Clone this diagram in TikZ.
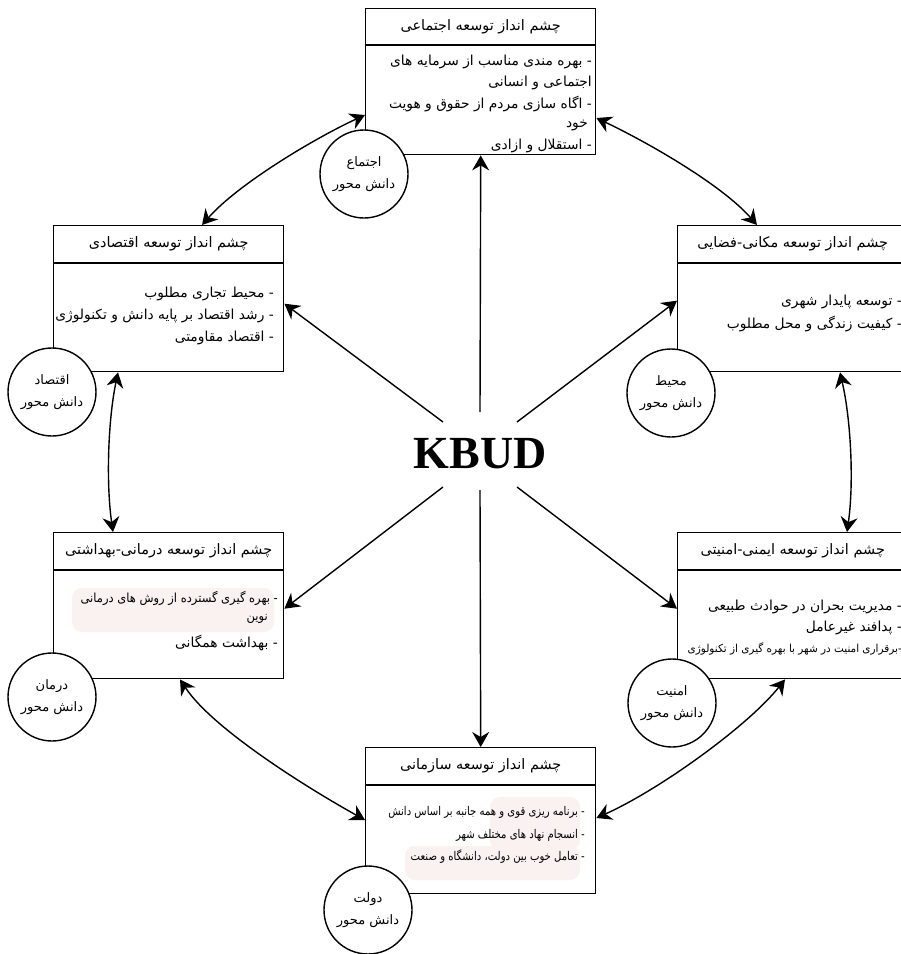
\documentclass[tikz,border=0pt]{standalone}
\usepackage{fontspec}
\usepackage{graphicx}
\setmainfont{Liberation Serif}
\newfontfamily\fa[Script=Arabic]{DejaVu Sans}
\TeXXeTstate=1
\usetikzlibrary{arrows.meta,calc}
\newcommand{\rl}[1]{\beginR #1\endR}
\definecolor{hl}{RGB}{250,241,241}
\begin{document}
\begin{tikzpicture}[x=1pt,y=-1pt,
  box/.style={draw, line width=1.4pt, fill=white, minimum width=230pt, minimum height=146pt, anchor=north west, inner sep=0pt},
  circ/.style={circle, draw, line width=1.4pt, fill=white, minimum size=88pt, inner sep=0pt, align=center, font=\fa\fontsize{13}{22}\selectfont},
  head/.style={font=\fa\fontsize{14.4}{16}\selectfont, inner sep=0pt},
  item/.style={font=\fa\fontsize{13.8}{21}\selectfont, inner sep=0pt, anchor=east},
  small/.style={font=\fa\fontsize{12.5}{20}\selectfont, inner sep=0pt, anchor=east},
  orgtxt/.style={font=\fa\fontsize{12}{18}\selectfont, inner sep=0pt, anchor=east},
  sep/.style={line width=1.4pt},
  arr/.style={line width=1.4pt, -{Stealth[length=15pt,width=17pt,inset=5pt]}},
  darr/.style={line width=1.4pt, {Stealth[length=15pt,width=17pt,inset=5pt]}-{Stealth[length=15pt,width=17pt,inset=5pt]}},
]
\useasboundingbox (0,0) rectangle (901,954);
\clip (0,0) rectangle (901,954);

% boxes
\node[box] (tb) at (365,8) {};
\node[box] (eb) at (53,225) {};
\node[box] (sb) at (677,225) {};
\node[box] (hb) at (53,532) {};
\node[box] (yb) at (677,532) {};
\node[box] (ob) at (365,747) {};

% header separators
\draw[sep] ($(tb.north west)+(0,37)$) -- ($(tb.north east)+(0,37)$);
\draw[sep] ($(eb.north west)+(0,38)$) -- ($(eb.north east)+(0,38)$);
\draw[sep] ($(sb.north west)+(0,38)$) -- ($(sb.north east)+(0,38)$);
\draw[sep] ($(hb.north west)+(0,38)$) -- ($(hb.north east)+(0,38)$);
\draw[sep] ($(yb.north west)+(0,38)$) -- ($(yb.north east)+(0,38)$);
\draw[sep] ($(ob.north west)+(0,38)$) -- ($(ob.north east)+(0,38)$);

% faint highlights
\fill[hl, rounded corners=10pt] (72,588) rectangle (274,632);
\fill[hl, rounded corners=10pt] (490,797) rectangle (580,850);
\fill[hl, rounded corners=10pt] (405,846) rectangle (580,880);

% headers
\node[head] (tbh) at ($(tb.north)+(0,19)$) {\beginR چشم انداز توسعه اجتماعی\endR};
\node[head] (ebh) at ($(eb.north)+(0,19)$) {\beginR چشم انداز توسعه اقتصادی\endR};
\node[head] (sbh) at ($(sb.north)+(0,19)$) {\beginR چشم انداز توسعه مکانی-فضایی\endR};
\node[head] (hbh) at ($(hb.north)+(0,19)$) {\beginR چشم انداز توسعه درمانی-بهداشتی\endR};
\node[head] (ybh) at ($(yb.north)+(0,19)$) {\beginR چشم انداز توسعه ایمنی-امنیتی\endR};
\node[head] (obh) at ($(ob.north)+(0,19)$) {\beginR چشم انداز توسعه سازمانی\endR};

% top box items
\node[item] (t1) at (592,62) {\beginR - بهره مندی مناسب از سرمایه های\endR};
\node[item] (t2) at (592,83) {\beginR اجتماعی و انسانی\endR};
\node[item] (t3) at (592,104) {\beginR - اگاه سازی مردم از حقوق و هویت\endR};
\node[item] (t4) at (588,125) {\beginR خود\endR};
\node[item] (t5) at (592,146) {\beginR - استقلال و ازادی\endR};

% economy items
\node[item] (e1) at (274,294) {\beginR - محیط تجاری مطلوب\endR};
\node[item] (e2) at (274,316) {\beginR - رشد اقتصاد بر پایه دانش و تکنولوژی\endR};
\node[item] (e3) at (274,338) {\beginR - اقتصاد مقاومتی\endR};

% spatial items
\node[item] (s1) at (902,302) {\beginR - توسعه پایدار شهری\endR};
\node[item] (s2) at (902,324) {\beginR - کیفیت زندگی و محل مطلوب\endR};

% health items
\node[small] (h1) at (278,598) {\scalebox{0.92}[1]{\beginR - بهره گیری گسترده از روش های درمانی\endR}};
\node[small] (h2) at (268,619) {\scalebox{0.92}[1]{\beginR نوین\endR}};
\node[item] (h3) at (278,643) {\beginR - بهداشت همگانی\endR};

% safety items
\node[item] (y1) at (902,607) {\beginR - مدیریت بحران در حوادث طبیعی\endR};
\node[item] (y2) at (902,628) {\beginR - پدافند غیرعامل\endR};
\node[font=\fa\fontsize{11}{14}\selectfont, inner sep=0pt, anchor=east] (y3) at (902,649) {\scalebox{0.95}[1]{\beginR -برقراری امنیت در شهر با بهره گیری از تکنولوژی\endR}};

% organisation items
\node[orgtxt] (o1) at (585,812) {\scalebox{0.84}[1]{\beginR - برنامه ریزی قوی و همه جانبه بر اساس دانش\endR}};
\node[orgtxt] (o2) at (585,835) {\scalebox{0.84}[1]{\beginR - انسجام نهاد های مختلف شهر\endR}};
\node[orgtxt] (o3) at (585,857) {\scalebox{0.84}[1]{\beginR - تعامل خوب بین دولت، دانشگاه و صنعت\endR}};

% centre
\node[font=\bfseries\fontsize{46}{50}\selectfont, inner sep=0pt, anchor=base] (kbud) at (480,468) {KBUD};
\coordinate (cu) at (480,412);
\coordinate (cd) at (480,490);
\coordinate (cul) at (443,422);
\coordinate (cur) at (517,422);
\coordinate (cdl) at (443,487);
\coordinate (cdr) at (517,487);

\draw[arr] (cu) -- (tb.south);
\draw[arr] (cd) -- (ob.north);
\draw[arr] (cul) -- ($(eb.east)+(0,5)$);
\draw[arr] (cur) -- ($(sb.west)+(0,2)$);
\draw[arr] (cdl) -- ($(hb.east)+(0,3)$);
\draw[arr] (cdr) -- ($(yb.west)+(0,3)$);

% ring of double arrows
\draw[darr] ($(tb.north west)+(0,107)$) .. controls (315,138) and (238,184) .. ($(eb.north west)+(149,0)$);
\draw[darr] ($(tb.north east)+(0,110)$) .. controls (645,141) and (721,184) .. ($(sb.north west)+(80,0)$);
\draw[darr] ($(eb.south west)+(65,0)$) .. controls (108,420) and (106,483) .. ($(hb.north west)+(60,0)$);
\draw[darr] ($(sb.south west)+(163,0)$) .. controls (851,420) and (854,483) .. ($(yb.north west)+(170,0)$);
\draw[darr] ($(hb.south west)+(127,0)$) .. controls (212,728) and (304,786) .. ($(ob.north west)+(0,73)$);
\draw[darr] ($(yb.south west)+(108,0)$) .. controls (748,726) and (659,790) .. ($(ob.north east)+(0,71)$);

% circles
\node[circ] (tc) at (364,174) {\beginR اجتماع\endR\\\beginR دانش محور\endR};
\node[circ] (ec) at (52,392) {\beginR اقتصاد\endR\\\beginR دانش محور\endR};
\node[circ] (sc) at (671,393) {\beginR محیط\endR\\\beginR دانش محور\endR};
\node[circ] (hc) at (52,697) {\beginR درمان\endR\\\beginR دانش محور\endR};
\node[circ] (yc) at (672,703) {\beginR امنیت\endR\\\beginR دانش محور\endR};
\node[circ] (oc) at (368,910) {\beginR دولت\endR\\\beginR دانش محور\endR};
\end{tikzpicture}
\end{document}
